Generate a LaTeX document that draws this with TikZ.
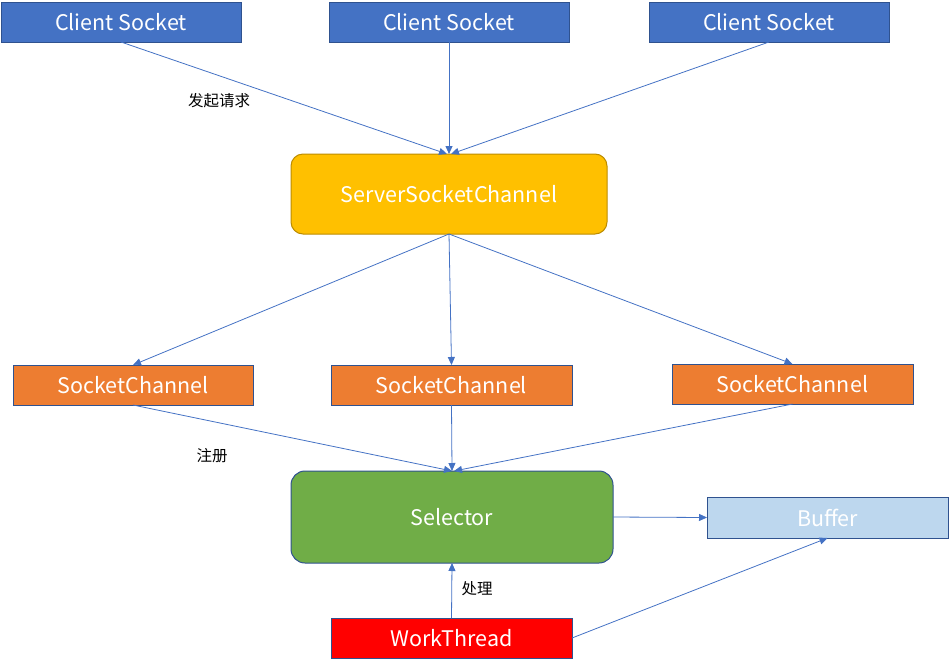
\documentclass[tikz,border=0pt]{standalone}
\usepackage{fontspec}
\setmainfont{Noto Sans CJK SC}
\usetikzlibrary{arrows.meta}
\definecolor{cblue}{HTML}{4472C4}
\definecolor{cborder}{HTML}{2F528F}
\definecolor{cyellow}{HTML}{FFC000}
\definecolor{cyborder}{HTML}{BC8C00}
\definecolor{corange}{HTML}{ED7D31}
\definecolor{cgreen}{HTML}{70AD47}
\definecolor{clight}{HTML}{BDD7EE}
\definecolor{cred}{HTML}{FF0000}
\tikzset{
  box/.style={draw=cborder, line width=1pt, text=white, inner sep=0pt, outer sep=0pt,
    minimum width=240pt, minimum height=40pt, font=\fontsize{21.5}{24}\selectfont},
  rbox/.style={box, rounded corners=12pt},
  conn/.style={draw=cblue, line width=0.8pt, -{Triangle[length=8pt,width=7pt]}},
  lbl/.style={font=\fontsize{15.5}{18}\selectfont, text=black, inner sep=0pt}
}
\begin{document}
\begin{tikzpicture}[x=1pt,y=-1pt]
\useasboundingbox (0,0) rectangle (949,667);
\node[box, fill=cblue] (c1) at (121,22) {Client Socket};
\node[box, fill=cblue] (c2) at (449,22) {Client Socket};
\node[box, fill=cblue] (c3) at (769,22) {Client Socket};
\node[rbox, fill=cyellow, draw=cyborder, minimum width=316pt, minimum height=80pt] (ssc) at (449,194) {ServerSocketChannel};
\node[box, fill=corange] (s1) at (133,385) {SocketChannel};
\node[box, fill=corange, minimum width=241pt] (s2) at (451.5,385) {SocketChannel};
\node[box, fill=corange, minimum width=241pt] (s3) at (792.5,384) {SocketChannel};
\node[rbox, fill=cgreen, minimum width=322pt, minimum height=92pt, rounded corners=14pt] (sel) at (452,517) {Selector};
\node[box, fill=clight, minimum width=241pt, minimum height=41pt] (buf) at (827.5,517.5) {Buffer};
\node[box, fill=cred, minimum width=241pt] (wt) at (451.5,638) {WorkThread};
\draw[conn] (c1.south) -- ([xshift=-2pt]ssc.north);
\draw[conn] (c2.south) -- (ssc.north);
\draw[conn] (c3.south) -- ([xshift=2pt]ssc.north);
\draw[conn] (ssc.south) -- (s1.north);
\draw[conn] (ssc.south) -- (s2.north);
\draw[conn] (ssc.south) -- (s3.north);
\draw[conn] (s1.south) -- (sel.north);
\draw[conn] (s2.south) -- (sel.north);
\draw[conn] (s3.south) -- ([xshift=2pt]sel.north);
\draw[conn] (sel.east) -- (buf.west);
\draw[conn] (wt.north) -- (sel.south);
\draw[conn] (wt.east) -- (buf.south);
\node[lbl] (l1) at (219,101) {发起请求};
\node[lbl] (l2) at (212,456) {注册};
\node[lbl] (l3) at (477,589) {处理};
\end{tikzpicture}
\end{document}
